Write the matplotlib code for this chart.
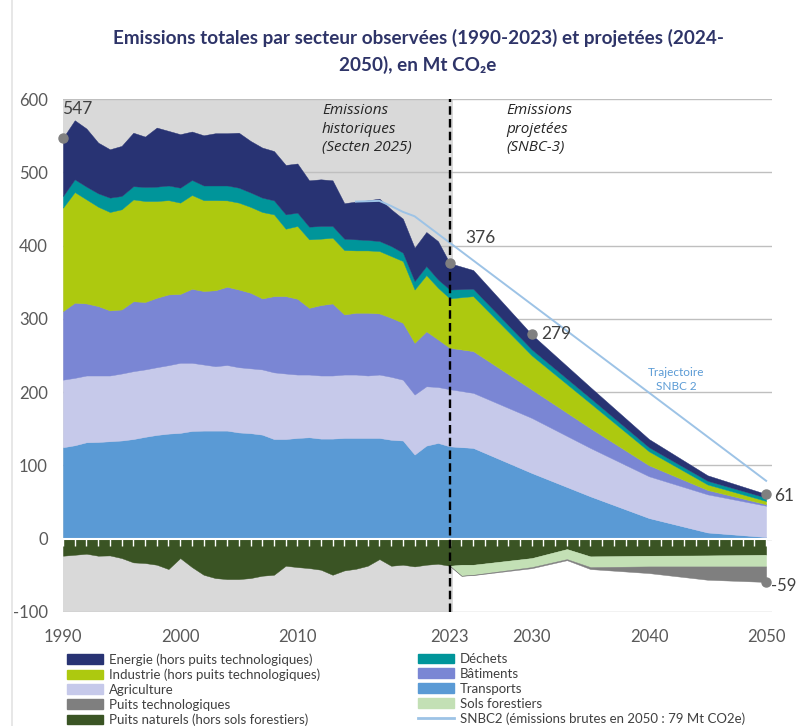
import matplotlib
matplotlib.use("Agg")
import matplotlib.pyplot as plt
from matplotlib.patches import Patch
from matplotlib.lines import Line2D

plt.rcParams['font.family'] = ['Lato', 'DejaVu Sans']
plt.rcParams['axes.unicode_minus'] = False

# ---------------- data ----------------
years_hist = list(range(1990, 2024))
transports_hist = [124.8, 127.5, 131.6, 132.0, 133.0, 134.0, 136.0, 139.0, 141.6, 143.4,
                   144.4, 147.0, 147.5, 147.5, 147.5, 145.0, 144.0, 142.0, 136.0, 136.0,
                   137.5, 138.4, 136.6, 136.6, 137.5, 137.5, 137.5, 137.5, 135.0, 134.0,
                   114.8, 127.0, 130.7, 126.0]
agriculture_hist = [92.2, 92.0, 91.1, 90.7, 89.7, 91.4, 92.6, 92.0, 92.4, 93.4,
                    95.6, 93.0, 90.2, 87.9, 89.5, 89.0, 88.5, 89.0, 91.0, 89.4,
                    86.5, 85.6, 86.1, 86.1, 86.5, 86.5, 85.2, 86.5, 85.9, 83.0,
                    81.9, 81.0, 76.3, 78.0]
batiments_hist = [93.6, 102.5, 98.3, 94.7, 88.8, 87.4, 95.4, 92.0, 94.8, 96.5,
                  94.0, 101.0, 100.3, 103.6, 106.8, 106.0, 103.1, 96.9, 104.0, 105.6,
                  103.4, 91.0, 96.1, 98.3, 82.0, 84.3, 85.6, 83.4, 80.6, 77.6,
                  70.6, 75.0, 64.9, 56.5]
industrie_hist = [141.1, 151.0, 142.0, 135.6, 134.3, 136.7, 139.0, 137.8, 132.0, 128.7,
                  124.6, 128.0, 124.0, 123.0, 117.9, 118.6, 117.2, 117.9, 111.6, 92.0,
                  99.3, 93.5, 90.6, 89.7, 87.9, 85.1, 85.1, 85.1, 84.2, 84.3,
                  72.7, 76.7, 70.5, 67.5]
dechets_hist = [16.0, 17.4, 17.4, 18.3, 19.6, 18.2, 18.0, 19.2, 19.6, 20.0,
                20.4, 20.5, 20.0, 20.0, 20.3, 20.4, 19.7, 19.6, 19.1, 19.6,
                18.2, 17.3, 17.3, 16.0, 15.5, 15.1, 14.2, 13.7, 13.7, 11.4,
                11.6, 12.3, 11.4, 12.0]
energie_hist = [79.3, 80.6, 79.3, 69.2, 66.0, 68.3, 73.0, 68.7, 80.6, 74.5,
                73.0, 66.1, 68.5, 71.3, 71.3, 75.0, 70.3, 68.3, 67.3, 67.4,
                67.1, 63.2, 63.7, 62.3, 48.4, 51.5, 54.1, 57.8, 50.1, 46.4,
                45.4, 46.5, 52.2, 36.0]
puits_naturels_hist = [-23.2, -21.9, -20.5, -23.2, -22.8, -26.4, -32.3, -33.2, -35.5, -41.4,
                       -26.4, -38.7, -49.2, -53.7, -55.1, -55.1, -53.7, -50.5, -49.2, -36.9,
                       -38.7, -40.1, -42.3, -49.2, -43.3, -41.0, -36.9, -27.8, -36.9, -35.5,
                       -37.8, -35.5, -34.2, -36.9]

years_proj = [2023, 2025, 2030, 2035, 2040, 2045, 2050]
transports_proj = [126.0, 123.9, 89.7, 57.8, 28.2, 8.5, 2.3]
agriculture_proj = [78.0, 75.1, 75.1, 66.0, 57.0, 52.0, 42.7]
batiments_proj = [56.5, 57.0, 38.8, 27.0, 15.0, 6.0, 2.0]
industrie_proj = [67.5, 75.0, 46.4, 34.0, 19.0, 7.5, 4.5]
dechets_proj = [12.0, 10.0, 8.2, 7.0, 5.5, 5.0, 4.5]
energie_proj = [36.0, 25.6, 20.5, 15.0, 11.3, 7.5, 5.0]

years_neg_proj = [2023, 2024, 2025, 2030, 2033, 2035, 2040, 2045, 2050]
puits_naturels_proj = [-36.9, -35.5, -35.5, -26.4, -14.1, -24.1, -23.2, -22.8, -21.9]
sols_forestiers_proj = [0.0, -15.0, -13.7, -12.3, -13.7, -14.6, -14.6, -15.0, -15.9]
puits_techno_proj = [0.0, 0.0, -0.5, -1.5, -1.5, -2.7, -9.1, -18.2, -21.2]

snbc2_years = [2015, 2017, 2018, 2019, 2020, 2050]
snbc2_values = [460, 461, 454, 446, 440, 79]

label_years = [1990, 2023, 2030, 2050, 2050]
label_values = [547, 376, 279, 61, -59]

xtick_years = [1990, 2000, 2010, 2023, 2030, 2040, 2050]
ytick_values = [-100, 0, 100, 200, 300, 400, 500, 600]

# ---------------- styles ----------------
C_ENER = '#283373'
C_DECH = '#00959A'
C_INDU = '#ADC90F'
C_BATI = '#7A86D4'
C_AGRI = '#C6C9EA'
C_TRAN = '#5A9AD5'
C_TECH = '#7F7F7F'
C_NAT = '#3A5424'
C_SOLS = '#C3E0B5'
C_SNBC = '#9DC3E6'
TXT = '#404040'

fig = plt.figure(figsize=(7.98, 7.26), dpi=100)
ax = fig.add_axes([63 / 798, 1 - 612 / 726, (772 - 63) / 798, (612 - 99) / 726])
ax.set_xlim(1990, 2050.5)
ax.set_ylim(-100, 600)

# background for historical period
ax.axvspan(years_hist[0], years_hist[-1] + 0.25, color='#D9D9D9', zorder=0, lw=0)
ax.set_yticks(ytick_values)
ax.grid(axis='y', color='#BFBFBF', lw=1, zorder=0.5)
ax.set_axisbelow(True)

years_all = years_hist + years_proj[1:]
series = [transports_hist + transports_proj[1:],
          agriculture_hist + agriculture_proj[1:],
          batiments_hist + batiments_proj[1:],
          industrie_hist + industrie_proj[1:],
          dechets_hist + dechets_proj[1:],
          energie_hist + energie_proj[1:]]
ax.stackplot(years_all, *series,
             colors=[C_TRAN, C_AGRI, C_BATI, C_INDU, C_DECH, C_ENER],
             lw=0.3, zorder=2, edgecolor='face')

ax.fill_between(years_hist, puits_naturels_hist, 0, color=C_NAT, lw=0.3, zorder=2)
polys = ax.stackplot(years_neg_proj, puits_naturels_proj, sols_forestiers_proj, puits_techno_proj,
                     colors=[C_NAT, C_SOLS, C_TECH], lw=0.3, zorder=2)
for p, c in zip(polys, [C_NAT, C_SOLS, C_TECH]):
    p.set_edgecolor(c)

ax.plot(snbc2_years, snbc2_values, color=C_SNBC, lw=1.4, zorder=3)

# zero line with yearly white ticks
sec = ax.secondary_xaxis(0, transform=ax.transData)
sec.set_xticks(list(range(1990, 2051)))
sec.set_xticklabels([])
sec.tick_params(axis='x', direction='out', length=5, width=1, color='white')
sec.spines['bottom'].set_color('white')
sec.spines['bottom'].set_linewidth(1.5)
sec.set_zorder(4)

# 2023 separator
ax.axvline(years_hist[-1], color='black', lw=1.7, linestyle=(0, (3.6, 1.8)), zorder=5)

# markers and labels
ax.plot(label_years, label_values, 'o', color='#808080', ms=6.5, zorder=6, clip_on=False)
ax.text(1989.9, 586, '547', fontsize=12.5, color=TXT, ha='left', va='center')
ax.text(2024.3, 410, '376', fontsize=12.5, color=TXT, ha='left', va='center')
ax.text(2030.8, 279, '279', fontsize=12.5, color=TXT, ha='left', va='center')
ax.text(2050.7, 58, '61', fontsize=12.5, color=TXT, ha='left', va='center', clip_on=False)
ax.text(2050.45, -64, '-59', fontsize=12, color=TXT, ha='left', va='center', clip_on=False)

ax.text(2012.1, 594, 'Emissions\nhistoriques\n(Secten 2025)', fontsize=11, style='italic',
        color='#262626', ha='left', va='top', linespacing=1.3,
        family=['Open Sans', 'DejaVu Sans'])
ax.text(2027.85, 594, 'Emissions\nprojetées\n(SNBC-3)', fontsize=11, style='italic',
        color='#262626', ha='left', va='top', linespacing=1.3,
        family=['Open Sans', 'DejaVu Sans'])
ax.text(2042.3, 217, 'Trajectoire\nSNBC 2', fontsize=8.5, color='#5B9BD5',
        ha='center', va='center', linespacing=1.3)

# axes styling
for s in ax.spines.values():
    s.set_visible(False)
ax.set_xticks(xtick_years)
ax.set_xticklabels([str(y) for y in xtick_years])
ax.tick_params(axis='both', length=0, labelsize=12, labelcolor='#595959')
ax.tick_params(axis='y', pad=11)
ax.tick_params(axis='x', pad=12)

# title
fig.text(0.524, 1 - 51.5 / 726,
         'Emissions totales par secteur observées (1990-2023) et projetées (2024-\n2050), en Mt CO\u2082e',
         ha='center', va='center', fontsize=13.6, fontweight='bold', color='#2E3468',
         linespacing=1.65)

# thin frame line at left of the image
fig.add_artist(Line2D([12 / 798, 12 / 798], [0, 1], transform=fig.transFigure,
                      color='#E3E3E3', lw=1.2))

# legends
h1 = [Patch(color=C_ENER), Patch(color=C_INDU), Patch(color=C_AGRI),
      Patch(color=C_TECH), Patch(color=C_NAT)]
l1 = ['Energie (hors puits technologiques)', 'Industrie (hors puits technologiques)',
      'Agriculture', 'Puits technologiques', 'Puits naturels (hors sols forestiers)']
h2 = [Patch(color=C_DECH), Patch(color=C_BATI), Patch(color=C_TRAN),
      Patch(color=C_SOLS), Line2D([], [], color=C_SNBC, lw=2)]
l2 = ['Déchets', 'Bâtiments', 'Transports', 'Sols forestiers',
      'SNBC2 (émissions brutes en 2050 : 79 Mt CO2e)']
common = dict(loc='upper left', frameon=False, fontsize=9.5, handlelength=2.7,
              handleheight=0.75, handletextpad=0.45, labelspacing=0.22,
              borderpad=0, borderaxespad=0, labelcolor=TXT)
fig.legend(h1, l1, bbox_to_anchor=(67 / 798, 1 - 653 / 726), **common)
fig.legend(h2, l2, bbox_to_anchor=(418 / 798, 1 - 653 / 726), **common)

fig.savefig('out.png', dpi=100)
